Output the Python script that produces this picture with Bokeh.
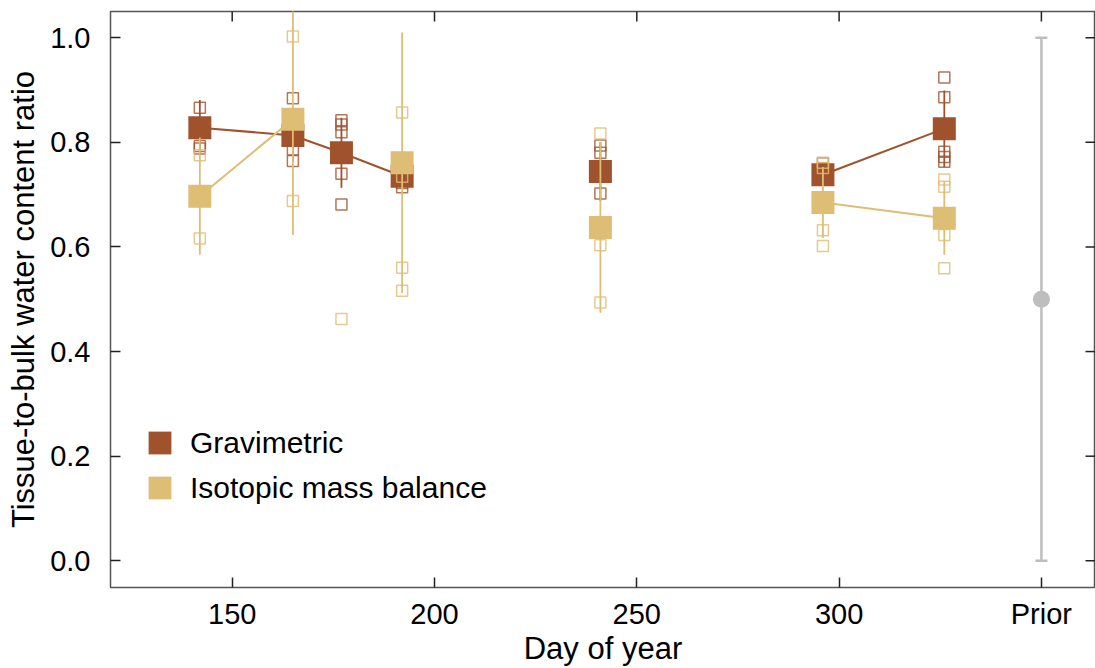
import math
from bokeh.plotting import figure
from bokeh.models import (Range1d, LinearAxis, FixedTicker, Legend, LegendItem,
                          Whisker, TeeHead, ColumnDataSource, PrintfTickFormatter)
from bokeh.embed import file_html
from bokeh.resources import INLINE

# ---------------- data ----------------
grav_days = [142, 165, 177, 192, 241, 296, 326]
grav_mean = [0.828, 0.813, 0.780, 0.735, 0.744, 0.738, 0.826]
grav_err = [0.053, 0.050, 0.067, 0.020, 0.056, 0.015, 0.073]
grav_group = [1, 1, 1, 1, 2, 3, 3]

iso_days = [142, 165, 192, 241, 296, 326]
iso_mean = [0.697, 0.844, 0.761, 0.637, 0.685, 0.655]
iso_err = [0.112, 0.221, 0.249, 0.163, 0.068, 0.070]
iso_group = [1, 1, 2, 3, 4, 4]

grav_sample_days = [142, 142, 142, 165, 165, 165, 177, 177, 177, 177, 177,
                    192, 192, 241, 241, 241, 296, 296, 326, 326, 326, 326, 326]
grav_sample_vals = [0.866, 0.793, 0.788, 0.884, 0.786, 0.764, 0.842, 0.834, 0.819, 0.740, 0.681,
                    0.714, 0.722, 0.794, 0.780, 0.702, 0.760, 0.750, 0.924, 0.886, 0.782, 0.772, 0.763]

iso_sample_days = [142, 142, 165, 165, 177, 192, 192, 192, 192, 241, 241, 241,
                   296, 296, 296, 296, 326, 326, 326, 326]
iso_sample_vals = [0.775, 0.616, 1.002, 0.688, 0.462, 0.857, 0.734, 0.560, 0.516, 0.817, 0.603, 0.494,
                   0.761, 0.751, 0.632, 0.602, 0.729, 0.715, 0.623, 0.559]

prior_pos = [350]
prior_mean = [0.5]
prior_low = [0.0]
prior_high = [1.0]

x_ticks = [150, 200, 250, 300, 350]
x_tick_labels = ["150", "200", "250", "300", "Prior"]
y_ticks = [0.0, 0.2, 0.4, 0.6, 0.8, 1.0]

X_START, X_END = 119.92, 363.37
Y_START, Y_END = -0.051, 1.050

BROWN = "#A0522D"
TAN = "#DEBD74"
GREY = "#BEBEBE"
TICK = "#222222"
FONT = "Liberation Sans"

# ---------------- figure ----------------
p = figure(width=1095, height=668,
           x_range=Range1d(X_START, X_END), y_range=Range1d(Y_START, Y_END),
           output_backend="svg", toolbar_location=None,
           x_axis_location=None, y_axis_location=None,
           min_border_left=110, min_border_right=0, min_border_top=11, min_border_bottom=80)
p.grid.visible = False
p.outline_line_color = "#555555"
p.outline_line_width = 1.5
p.background_fill_color = "white"
p.border_fill_color = "white"


def style_axis(ax):
    ax.axis_line_color = None
    ax.major_tick_in = 10
    ax.major_tick_out = 0
    ax.minor_tick_in = 0
    ax.minor_tick_out = 0
    ax.major_tick_line_color = TICK
    ax.major_tick_line_width = 1.5
    ax.major_label_text_font = FONT
    ax.major_label_text_font_size = "29px"
    ax.major_label_text_color = "black"
    ax.axis_label_text_font = FONT
    ax.axis_label_text_font_size = "31px"
    ax.axis_label_text_font_style = "normal"
    ax.axis_label_text_color = "black"


xb = LinearAxis(ticker=FixedTicker(ticks=x_ticks),
                major_label_overrides={t: l for t, l in zip(x_ticks, x_tick_labels)},
                axis_label="Day of year")
style_axis(xb)
xb.major_label_standoff = 10
xb.axis_label_standoff = -2
p.add_layout(xb, "below")

yl = LinearAxis(ticker=FixedTicker(ticks=y_ticks), formatter=PrintfTickFormatter(format="%.1f"),
                axis_label="Tissue-to-bulk water content ratio")
style_axis(yl)
yl.major_label_standoff = 20
yl.axis_label_standoff = 6
p.add_layout(yl, "left")

# inward ticks on the top and right edges of the frame (clipped half-dashes)
p.scatter(x_ticks, [Y_END] * len(x_ticks), marker="dash", angle=math.pi / 2, size=20,
          line_color=TICK, line_width=1.5)
p.scatter([X_END] * len(y_ticks), y_ticks, marker="dash", size=20,
          line_color=TICK, line_width=1.5)


def draw_series(days, mean, err, group, sdays, svals, color):
    for g in sorted(set(group)):
        xs = [d for d, gg in zip(days, group) if gg == g]
        ys = [m for m, gg in zip(mean, group) if gg == g]
        if len(xs) > 1:
            p.line(xs, ys, line_color=color, line_width=2)
    lo = [m - e for m, e in zip(mean, err)]
    hi = [m + e for m, e in zip(mean, err)]
    p.segment(x0=days, y0=lo, x1=days, y1=hi, line_color=color, line_width=1.8)
    r = p.scatter(days, mean, marker="square", size=23, fill_color=color, line_color=None)
    p.scatter(sdays, svals, marker="square", size=11, fill_color=None,
              line_color=color, line_alpha=0.8, line_width=1.5)
    return r


r_grav = draw_series(grav_days, grav_mean, grav_err, grav_group, grav_sample_days, grav_sample_vals, BROWN)
r_iso = draw_series(iso_days, iso_mean, iso_err, iso_group, iso_sample_days, iso_sample_vals, TAN)

# prior
psrc = ColumnDataSource(dict(base=prior_pos, lower=prior_low, upper=prior_high))
p.add_layout(Whisker(base="base", lower="lower", upper="upper", source=psrc,
                     line_color=GREY, line_width=2.5,
                     upper_head=TeeHead(size=12, line_color=GREY, line_width=2.5),
                     lower_head=TeeHead(size=12, line_color=GREY, line_width=2.5)))
p.scatter(prior_pos, prior_mean, marker="circle", size=17, fill_color=GREY, line_color=None)


# legend (marker legend size = 0.4 * glyph box); one box per entry to control row pitch
def make_legend(label, renderer, loc):
    return Legend(items=[LegendItem(label=label, renderers=[renderer])],
                  location=loc, glyph_width=57, glyph_height=57, label_height=57,
                  label_standoff=2, spacing=0, padding=0, margin=0,
                  border_line_color=None, background_fill_alpha=0,
                  label_text_font=FONT, label_text_font_size="30px", label_text_color="black")


p.add_layout(make_legend("Gravimetric", r_grav, (21, 116)))
p.add_layout(make_legend("Isotopic mass balance", r_iso, (21, 71)))

open("out.html", "w").write(file_html(p, INLINE))
